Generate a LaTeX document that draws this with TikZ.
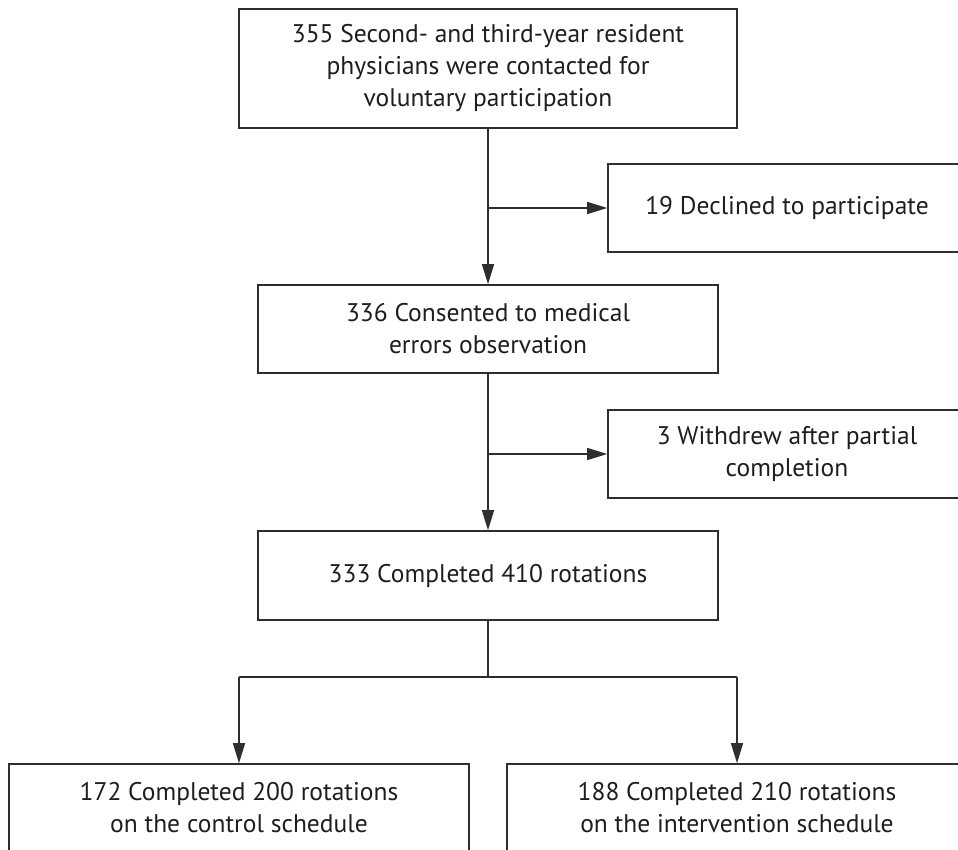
\documentclass[tikz,border=0pt]{standalone}
\usepackage{fontspec}
\setmainfont{PT Sans}
\usetikzlibrary{arrows.meta}
\definecolor{linegray}{HTML}{2E2E2E}
\definecolor{textgray}{HTML}{1E1E1E}
\begin{document}
\begin{tikzpicture}[x=1pt,y=-1pt,
  box/.style={draw=linegray, line width=1.6pt, align=center, inner sep=0pt,
    font=\fontsize{25.5}{32}\selectfont, text=textgray},
  conn/.style={draw=linegray, line width=1.4pt},
  arr/.style={conn, -{Triangle[length=20pt,width=12pt]}}]
\useasboundingbox (0,0) rectangle (958,850);
\clip (0,0) rectangle (958,850);
\fill[white] (0,0) rectangle (958,850);

\node[box, minimum width=498pt, minimum height=119pt] (top) at (488,68.5)
  {355 Second- and third-year resident\\physicians were contacted for\\voluntary participation};
\node[box, minimum width=358pt, minimum height=88pt] (declined) at (787,208)
  {19 Declined to participate};
\node[box, minimum width=460pt, minimum height=88pt] (consent) at (488,329)
  {336 Consented to medical\\errors observation};
\node[box, minimum width=358pt, minimum height=88pt] (withdrew) at (787,454)
  {3 Withdrew after partial\\completion};
\node[box, minimum width=460pt, minimum height=89pt] (completed) at (488,575.5)
  {333 Completed 410 rotations};
\node[box, minimum width=460pt, minimum height=88pt] (control) at (239,808)
  {172 Completed 200 rotations\\on the control schedule};
\node[box, minimum width=460pt, minimum height=88pt] (interv) at (737,808)
  {188 Completed 210 rotations\\on the intervention schedule};

\coordinate (b1) at (top.south |- declined.west);
\coordinate (b2) at (consent.south |- withdrew.west);
\coordinate (split) at (488,677);
\coordinate (sl) at (control.north |- split);
\coordinate (sr) at (interv.north |- split);

\draw[arr] (top.south) -- (consent.north);
\draw[arr] (b1) -- (declined.west);
\draw[arr] (consent.south) -- (completed.north);
\draw[arr] (b2) -- (withdrew.west);
\draw[conn] (completed.south) -- (split);
\draw[conn] (sl) -- (sr);
\draw[arr] (sl) -- (control.north);
\draw[arr] (sr) -- (interv.north);
\end{tikzpicture}
\end{document}
